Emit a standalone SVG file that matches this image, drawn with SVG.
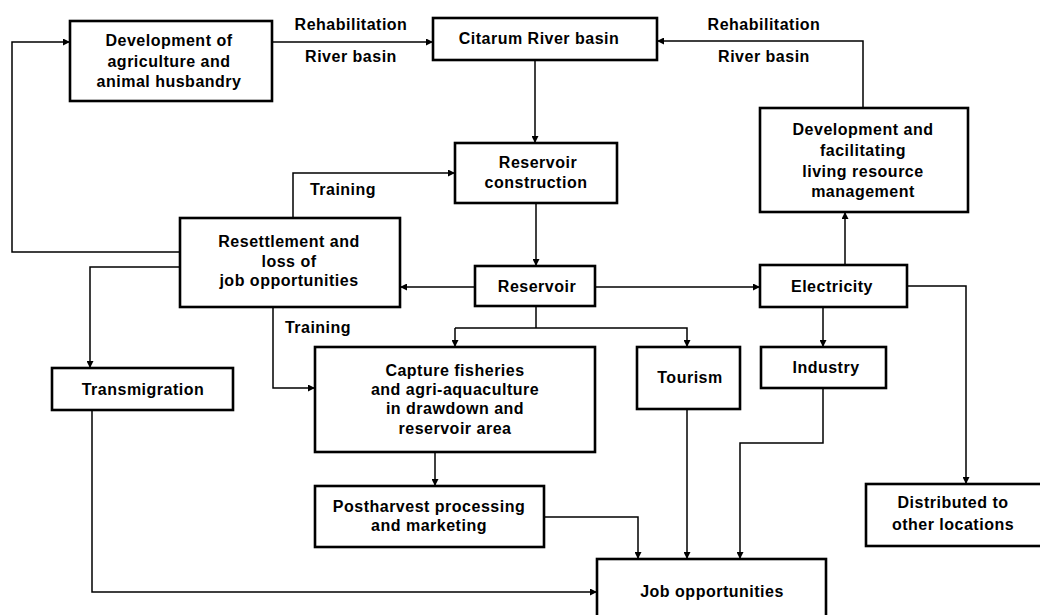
<svg xmlns="http://www.w3.org/2000/svg" width="1040" height="615" viewBox="0 0 1040 615">
<style>
.box{fill:#fff;stroke:#000;stroke-width:2.6}
.t{font-family:"Liberation Sans",Arial,Helvetica,sans-serif;font-weight:bold;font-size:16px;letter-spacing:0.5px;fill:#000;text-anchor:middle}
.c{fill:none;stroke:#000;stroke-width:1.5}
.a{marker-end:url(#arr)}
</style>
<defs>
<marker id="arr" viewBox="0 0 10 10" refX="10" refY="5" markerWidth="10" markerHeight="7" markerUnits="userSpaceOnUse" orient="auto">
<path d="M0,0 L10,5 L0,10 z" fill="#000"/>
</marker>
</defs>
<rect width="1040" height="615" fill="#fff"/>
<g id="connectors">
<polyline class="c a" points="180,252 12,252 12,42 70,42"/>
<polyline class="c a" points="272,42 433,42"/>
<polyline class="c a" points="863,108 863,41 657,41"/>
<polyline class="c a" points="535,60 535,143"/>
<polyline class="c a" points="293,218 293,173 455,173"/>
<polyline class="c a" points="536,203 536,266"/>
<polyline class="c a" points="475,287 400,287"/>
<polyline class="c a" points="595,287 760,287"/>
<polyline class="c a" points="845,265 845,212"/>
<polyline class="c a" points="907,286 966,286 966,484"/>
<polyline class="c a" points="823,307 823,347"/>
<polyline class="c" points="536,306 536,328"/>
<polyline class="c a" points="455,328 455,347"/>
<polyline class="c a" points="455,328 687,328 687,347"/>
<polyline class="c a" points="180,267 90,267 90,368"/>
<polyline class="c a" points="273,307 273,388 315,388"/>
<polyline class="c a" points="435,452 435,486"/>
<polyline class="c a" points="544,517 638,517 638,559"/>
<polyline class="c a" points="687,409 687,559"/>
<polyline class="c a" points="823,388 823,443 740,443 740,559"/>
<polyline class="c a" points="92,410 92,592 597,592"/>
</g>
<g id="labels">
<text class="t" x="351" y="30">Rehabilitation</text>
<text class="t" x="351" y="62">River basin</text>
<text class="t" x="764" y="30">Rehabilitation</text>
<text class="t" x="764" y="62">River basin</text>
<text class="t" x="343" y="195">Training</text>
<text class="t" x="318" y="333">Training</text>
</g>
<g id="n-agri">
<rect class="box" x="70" y="21" width="202" height="80"/>
<text class="t" x="169" y="46">Development of</text>
<text class="t" x="169" y="67">agriculture and</text>
<text class="t" x="169" y="87">animal husbandry</text>
</g>
<g id="n-citarum">
<rect class="box" x="433" y="18" width="224" height="42"/>
<text class="t" x="539" y="44">Citarum River basin</text>
</g>
<g id="n-construction">
<rect class="box" x="455" y="143" width="162" height="60"/>
<text class="t" x="538" y="168">Reservoir</text>
<text class="t" x="536" y="188">construction</text>
</g>
<g id="n-devfac">
<rect class="box" x="760" y="108" width="208" height="104"/>
<text class="t" x="863" y="135">Development and</text>
<text class="t" x="863" y="156">facilitating</text>
<text class="t" x="863" y="177">living resource</text>
<text class="t" x="863" y="197">management</text>
</g>
<g id="n-resettlement">
<rect class="box" x="180" y="218" width="220" height="89"/>
<text class="t" x="289" y="247">Resettlement and</text>
<text class="t" x="289" y="267">loss of</text>
<text class="t" x="289" y="286">job opportunities</text>
</g>
<g id="n-reservoir">
<rect class="box" x="475" y="266" width="120" height="40"/>
<text class="t" x="537" y="292">Reservoir</text>
</g>
<g id="n-electricity">
<rect class="box" x="760" y="265" width="147" height="42"/>
<text class="t" x="832" y="292">Electricity</text>
</g>
<g id="n-transmigration">
<rect class="box" x="52" y="368" width="181" height="42"/>
<text class="t" x="143" y="395">Transmigration</text>
</g>
<g id="n-capture">
<rect class="box" x="315" y="347" width="280" height="105"/>
<text class="t" x="455" y="376">Capture fisheries</text>
<text class="t" x="455" y="395">and agri-aquaculture</text>
<text class="t" x="455" y="414">in drawdown and</text>
<text class="t" x="455" y="434">reservoir area</text>
</g>
<g id="n-tourism">
<rect class="box" x="637" y="347" width="103" height="62"/>
<text class="t" x="690" y="383">Tourism</text>
</g>
<g id="n-industry">
<rect class="box" x="761" y="347" width="125" height="41"/>
<text class="t" x="826" y="373">Industry</text>
</g>
<g id="n-postharvest">
<rect class="box" x="315" y="486" width="229" height="61"/>
<text class="t" x="429" y="512">Postharvest processing</text>
<text class="t" x="429" y="531">and marketing</text>
</g>
<g id="n-job">
<rect class="box" x="597" y="559" width="229" height="70"/>
<text class="t" x="712" y="597">Job opportunities</text>
</g>
<g id="n-distributed">
<rect class="box" x="866" y="484" width="190" height="62"/>
<text class="t" x="953" y="508">Distributed to</text>
<text class="t" x="953" y="530">other locations</text>
</g>
</svg>
